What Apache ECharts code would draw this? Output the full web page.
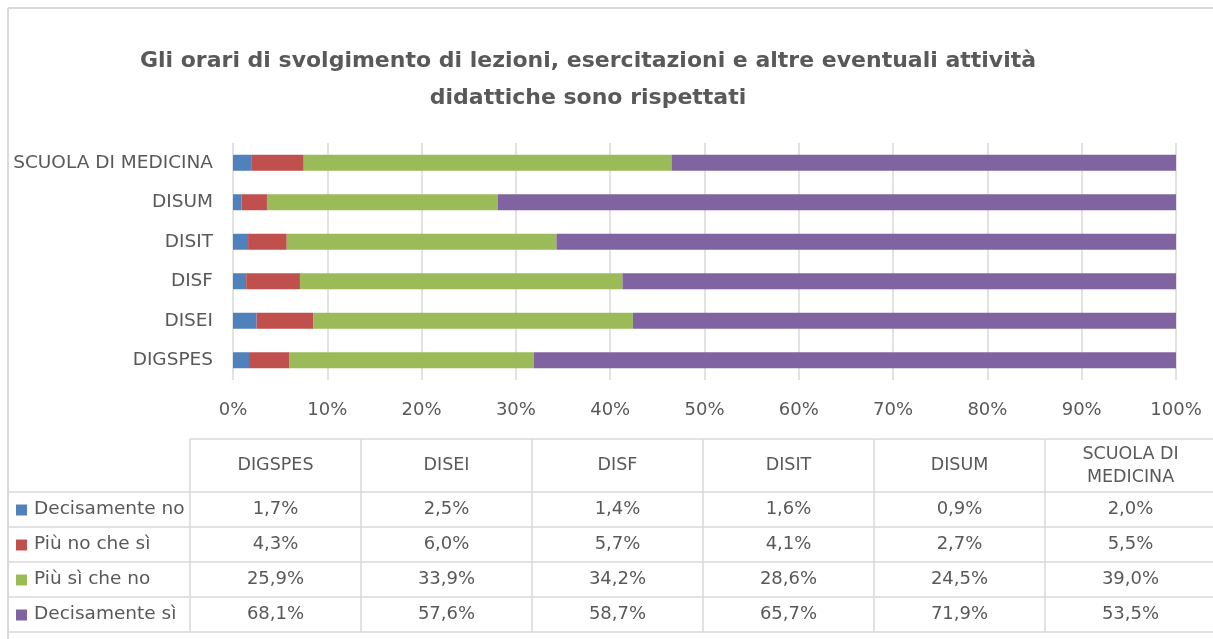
<!DOCTYPE html>
<html>
<head>
<meta charset="utf-8">
<script src="https://cdn.jsdelivr.net/npm/echarts@6/dist/echarts.min.js"></script>
<style>
  html, body { margin: 0; padding: 0; background: #fff; }
  #main { width: 1213px; height: 639px; }
</style>
</head>
<body>
<div id="main"></div>
<script>
// data (order = bottom to top on the bar chart, left to right in the table)
var categories = ['DIGSPES', 'DISEI', 'DISF', 'DISIT', 'DISUM', 'SCUOLA DI MEDICINA'];
var seriesNames = ['Decisamente no', 'Più no che sì', 'Più sì che no', 'Decisamente sì'];
var decisamenteNo = [1.7, 2.5, 1.4, 1.6, 0.9, 2.0];
var piuNoCheSi = [4.3, 6.0, 5.7, 4.1, 2.7, 5.5];
var piuSiCheNo = [25.9, 33.9, 34.2, 28.6, 24.5, 39.0];
var decisamenteSi = [68.1, 57.6, 58.7, 65.7, 71.9, 53.5];
var colors = ['#4f81bd', '#c0504d', '#9bbb59', '#8064a2'];

var allValues = [decisamenteNo, piuNoCheSi, piuSiCheNo, decisamenteSi];
var textColor = '#595959';
var lineColor = '#d9d9d9';
var font = '"DejaVu Sans", sans-serif';

function fmt(v) {
    return v.toFixed(1).replace('.', ',') + '%';
}

function wrapHeader(name) {
    // long names go on two lines, like in the original table
    if (name.length > 12) {
        var i = name.lastIndexOf(' ');
        return name.slice(0, i) + '\n' + name.slice(i + 1);
    }
    return name;
}

// table layout
var W = 1213;
var frameX = 8, frameY = 8;
var firstColX = 190, colW = 171;
var rowLines = [439, 492, 527, 562, 597, 632];

function buildTable() {
    var g = [];
    // outer frame (top and left edges visible)
    g.push({type: 'line', shape: {x1: frameX, y1: frameY, x2: W, y2: frameY}, style: {stroke: lineColor, lineWidth: 2}});
    g.push({type: 'line', shape: {x1: frameX, y1: frameY, x2: frameX, y2: 639}, style: {stroke: lineColor, lineWidth: 2}});

    // horizontal lines
    rowLines.forEach(function (y, i) {
        g.push({type: 'line', shape: {x1: i == 0 ? firstColX : frameX, y1: y, x2: W, y2: y},
            style: {stroke: lineColor, lineWidth: 1.5}});
    });
    // vertical lines
    for (var c = 0; c < categories.length; c++) {
        var x = firstColX + c * colW;
        g.push({type: 'line', shape: {x1: x, y1: rowLines[0], x2: x, y2: rowLines[rowLines.length - 1]},
            style: {stroke: lineColor, lineWidth: 1.5}});
    }
    // header
    categories.forEach(function (name, c) {
        g.push({type: 'text', x: firstColX + c * colW + colW / 2, y: (rowLines[0] + rowLines[1]) / 2,
            style: {text: wrapHeader(name), fill: textColor, font: '17.5px ' + font, align: 'center',
                verticalAlign: 'middle', lineHeight: 23}});
    });
    // rows
    seriesNames.forEach(function (s, r) {
        var yc = (rowLines[r + 1] + rowLines[r + 2]) / 2;
        g.push({type: 'rect', shape: {x: 16, y: yc - 5, width: 11, height: 11}, style: {fill: colors[r]}});
        g.push({type: 'text', x: 34, y: yc, style: {text: s, fill: textColor, font: '18.5px ' + font,
            align: 'left', verticalAlign: 'middle'}});
        allValues[r].forEach(function (v, c) {
            g.push({type: 'text', x: firstColX + c * colW + colW / 2, y: yc,
                style: {text: fmt(v), fill: textColor, font: '18px ' + font, align: 'center', verticalAlign: 'middle'}});
        });
    });
    return g;
}

var series = seriesNames.map(function (name, i) {
    return {
        name: name,
        type: 'bar',
        stack: 'total',
        barWidth: 16,
        itemStyle: {color: colors[i]},
        data: allValues[i]
    };
});

var option = {
    animation: false,
    title: {
        text: 'Gli orari di svolgimento di lezioni, esercitazioni e altre eventuali attività\ndidattiche sono rispettati',
        left: 583,
        top: 38,
        textAlign: 'center',
        textStyle: {color: textColor, fontFamily: font, fontSize: 22, fontWeight: 'bold', lineHeight: 37}
    },
    grid: {left: 233, right: 37, top: 143, bottom: 259},
    xAxis: {
        type: 'value',
        min: 0,
        max: 100,
        interval: 10,
        axisLine: {show: false},
        axisTick: {show: false},
        axisLabel: {formatter: '{value}%', color: textColor, fontFamily: font, fontSize: 18, margin: 21},
        splitLine: {show: true, lineStyle: {color: lineColor, width: 1.5}}
    },
    yAxis: {
        type: 'category',
        data: categories,
        axisLine: {show: false},
        axisTick: {show: false},
        axisLabel: {color: textColor, fontFamily: font, fontSize: 18.5, margin: 20}
    },
    series: series,
    graphic: buildTable()
};

var myChart = echarts.init(document.getElementById('main'));
myChart.setOption(option);
</script>
</body>
</html>
